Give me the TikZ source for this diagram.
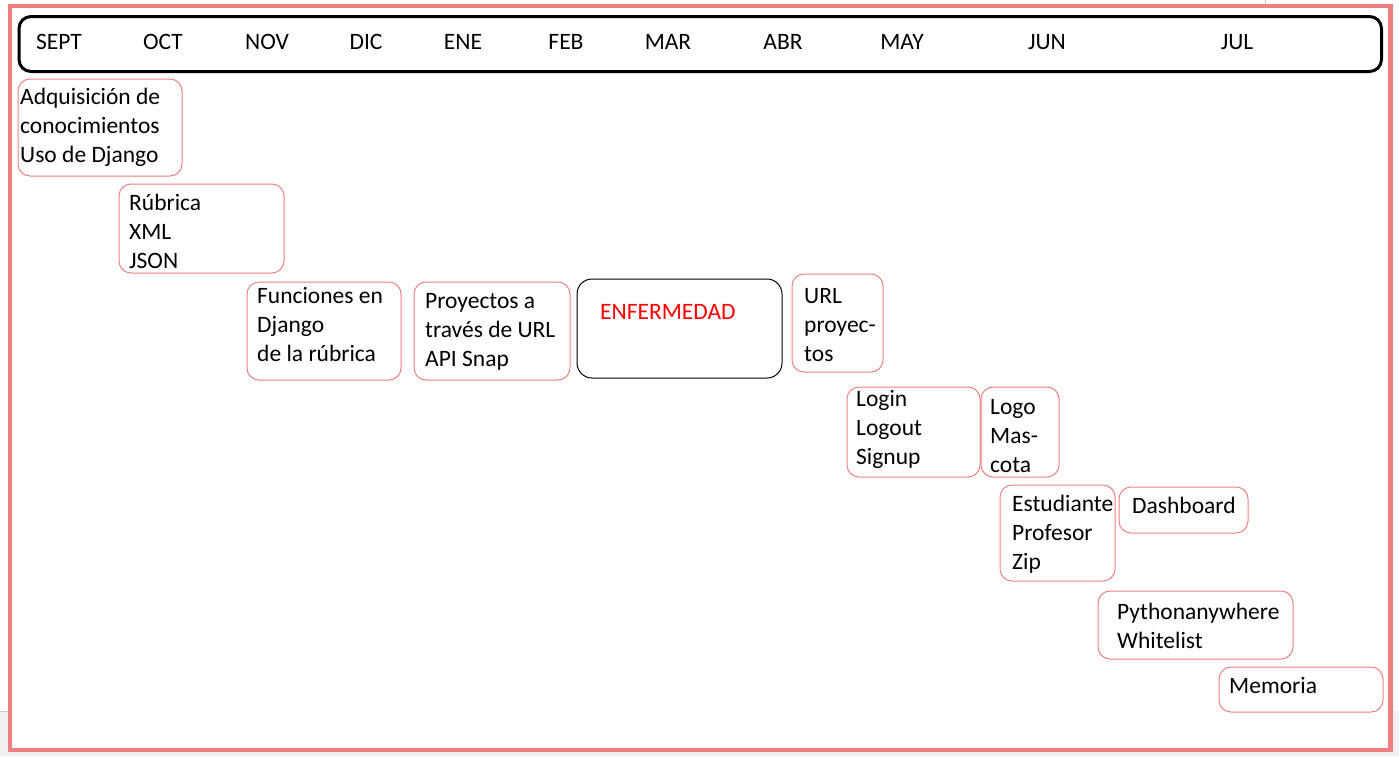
\documentclass[tikz,border=0pt]{standalone}
\usepackage{fontspec}
\setmainfont{Carlito}
\definecolor{salmon}{RGB}{240,128,128}
\definecolor{pagegray}{RGB}{240,240,240}
\definecolor{edgegray}{RGB}{200,200,200}
\begin{document}
\begin{tikzpicture}[x=1pt,y=-1pt,
  fnt/.style={font=\fontsize{23.5}{29}\selectfont},
  taskbox/.style={draw=salmon, line width=1pt, rounded corners=12pt, inner sep=0pt, outer sep=0pt, anchor=north west},
  txt/.style={fnt, anchor=north west, inner sep=0pt, align=left},
  month/.style={fnt, anchor=base, inner sep=0pt},
]
\useasboundingbox (0,0) rectangle (1399,756);
% page surroundings
\fill[pagegray] (0,711) rectangle (10,756);
\fill[pagegray] (0,750) rectangle (1399,756);
\fill[pagegray] (1390,711) rectangle (1399,756);
\draw[edgegray, line width=0.8pt] (0,711) -- (8,711);
\draw[edgegray, line width=0.8pt] (1265,0) -- (1265,5);
% outer frame
\node[draw=salmon, line width=4.5pt, inner sep=0pt, outer sep=0pt, minimum width=1380.5pt, minimum height=744pt, anchor=north west] (frame) at (10,6) {};
% header
\node[draw=black, line width=3pt, rounded corners=12pt, inner sep=0pt, outer sep=0pt, minimum width=1362.5pt, minimum height=55pt, anchor=north west] (hdr) at (19,16.5) {};
\node[month] (m1) at (59,49) {SEPT};
\node[month] (m2) at (163,49) {OCT};
\node[month] (m3) at (267,49) {NOV};
\node[month] (m4) at (366,49) {DIC};
\node[month] (m5) at (463,49) {ENE};
\node[month] (m6) at (566,49) {FEB};
\node[month] (m7) at (668,49) {MAR};
\node[month] (m8) at (783,49) {ABR};
\node[month] (m9) at (902,49) {MAY};
\node[month] (m10) at (1047,49) {JUN};
\node[month] (m11) at (1237,49) {JUL};
% task boxes
\node[taskbox, minimum width=164pt, minimum height=97pt] (b1) at (18,79) {};
\node[txt] (t1) at (20,83.7) {\strut Adquisición de\\\strut conocimientos\\\strut Uso de Django};
\node[taskbox, minimum width=165pt, minimum height=89pt] (b2) at (119,184) {};
\node[txt] (t2) at (129,189.7) {\strut Rúbrica\\\strut XML\\\strut JSON};
\node[taskbox, minimum width=154pt, minimum height=98pt] (b3) at (247,282) {};
\node[txt] (t3) at (257,282.7) {\strut Funciones en\\\strut Django\\\strut de la rúbrica};
\node[taskbox, minimum width=156pt, minimum height=98pt] (b4) at (414,282) {};
\node[txt] (t4) at (425,287.7) {\strut Proyectos a\\\strut través de URL\\\strut API Snap};
\node[taskbox, draw=black, rounded corners=15pt, minimum width=205pt, minimum height=99pt] (b5) at (577,279) {};
\node[txt, text=red] (t5) at (600,298.7) {\strut ENFERMEDAD};
\node[taskbox, minimum width=91pt, minimum height=98pt] (b6) at (792,274) {};
\node[txt] (t6) at (804,282.7) {\strut URL\\\strut proyec-\\\strut tos};
\node[taskbox, minimum width=133pt, minimum height=90pt] (b7) at (847,387) {};
\node[txt] (t7) at (856,385.7) {\strut Login\\\strut Logout\\\strut Signup};
\node[taskbox, minimum width=78pt, minimum height=90pt] (b8) at (981,387) {};
\node[txt] (t8) at (990,393.7) {\strut Logo\\\strut Mas-\\\strut cota};
\node[taskbox, minimum width=115pt, minimum height=96pt] (b9) at (1000,485) {};
\node[txt] (t9) at (1012,490.7) {\strut Estudiante\\\strut Profesor\\\strut Zip};
\node[taskbox, minimum width=129pt, minimum height=46pt] (b10) at (1119,487) {};
\node[txt] (t10) at (1132,492.7) {\strut Dashboard};
\node[taskbox, minimum width=195pt, minimum height=68pt] (b11) at (1098,591) {};
\node[txt] (t11) at (1117,598.7) {\strut Pythonanywhere\\\strut Whitelist};
\node[taskbox, minimum width=164pt, minimum height=45pt] (b12) at (1219,667) {};
\node[txt] (t12) at (1229,672.7) {\strut Memoria};
\end{tikzpicture}
\end{document}
